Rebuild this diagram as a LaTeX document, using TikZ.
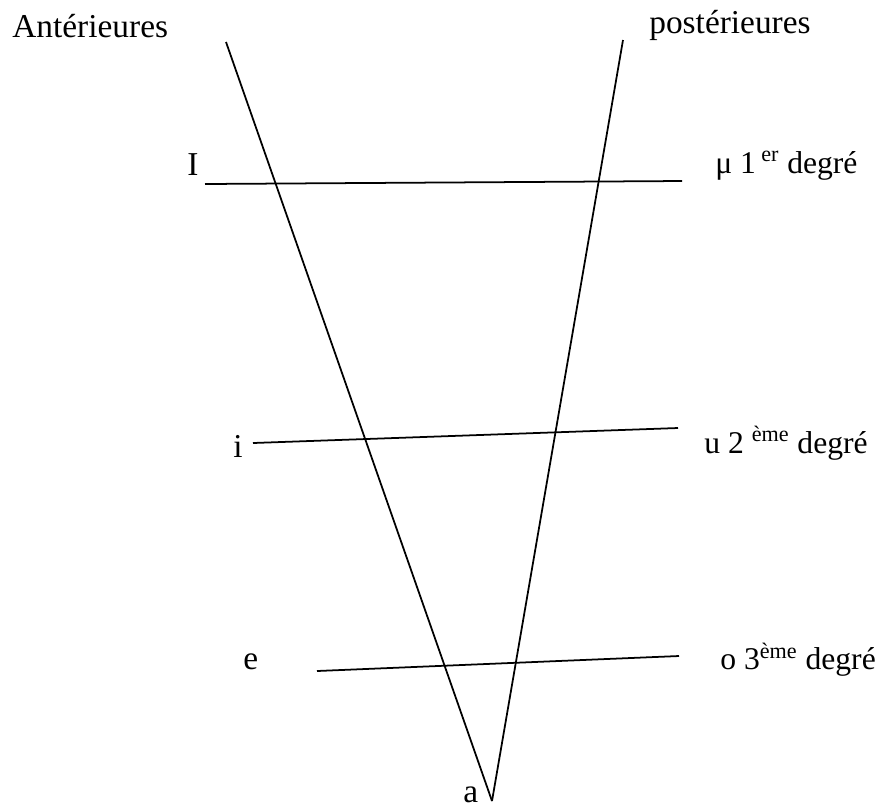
\documentclass[tikz,border=0pt]{standalone}
\usepackage{fontspec}
\setmainfont{Liberation Serif}
\begin{document}
\begin{tikzpicture}[x=0.02cm, y=-0.02cm,
    lbl/.style={anchor=base west, inner sep=0pt, font=\fontsize{19}{22}\selectfont},
    degre/.style={lbl, font=\fontsize{18}{21}\selectfont},
    ligne/.style={line width=1pt}]
    \useasboundingbox (0,0) rectangle (884,809);

    \node[lbl] (ant) at (12,37) {Antérieures};
    \node[lbl] (post) at (649,33) {postérieures};

    \coordinate (hautg) at (226,42);
    \coordinate (hautd) at (623,40);
    \coordinate (apex) at (492,801);
    \node[lbl] (a) at (463,802) {a};

    \draw[ligne] (hautg) -- (apex);
    \draw[ligne] (hautd) -- (apex);

    % premier degre
    \node[lbl] (I) at (187,175) {I};
    \coordinate (g1) at (205,184);
    \coordinate (d1) at (682,181);
    \node[degre] (deg1) at (715,173) {μ 1\,\textsuperscript{er} degré};
    \draw[ligne] (g1) -- (d1);

    % deuxieme degre
    \node[lbl] (i) at (233,457) {i};
    \coordinate (g2) at (253,443);
    \coordinate (d2) at (678,428);
    \node[degre] (deg2) at (704,453) {u 2 \textsuperscript{ème} degré};
    \draw[ligne] (g2) -- (d2);

    % troisieme degre
    \node[lbl] (e) at (243,669) {e};
    \coordinate (g3) at (317,671);
    \coordinate (d3) at (679,656);
    \node[degre] (deg3) at (720,669) {o 3\textsuperscript{ème} degré};
    \draw[ligne] (g3) -- (d3);
\end{tikzpicture}
\end{document}
